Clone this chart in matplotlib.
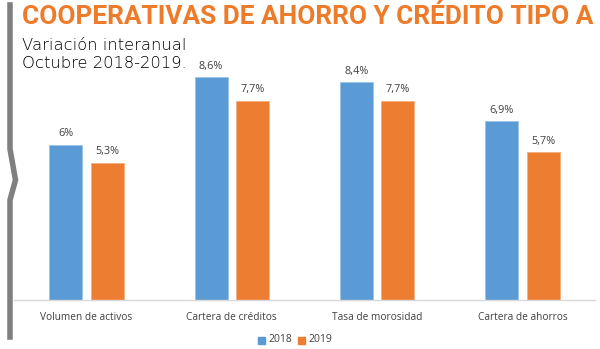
import matplotlib.pyplot as plt
import numpy as np
from matplotlib.lines import Line2D
from matplotlib.patches import Rectangle

categories = ["Volumen de activos", "Cartera de créditos", "Tasa de morosidad", "Cartera de ahorros"]
values_2018 = [6.0, 8.6, 8.4, 6.9]
values_2019 = [5.3, 7.7, 7.7, 5.7]
labels_2018 = ["6%", "8,6%", "8,4%", "6,9%"]
labels_2019 = ["5,3%", "7,7%", "7,7%", "5,7%"]
years = ["2018", "2019"]

blue = "#5b9bd5"
orange = "#ed7d31"
W, H = 600, 349

fig = plt.figure(figsize=(6, 3.49), dpi=100)
plt.rc('font', family=['Open Sans', 'DejaVu Sans'])

# plot area: baseline at y=300 px, 1% ~ 25.9 px
ax = fig.add_axes([14 / W, (H - 300) / H, 581 / W, 250 / H])
x = np.arange(len(categories))
bw = 0.227
off = 0.143
ax.bar(x - off, values_2018, bw, color=blue, edgecolor="#9cc3e6", linewidth=0.6)
ax.bar(x + off, values_2019, bw, color=orange, edgecolor="#f4b183", linewidth=0.6)
for i in range(len(categories)):
    ax.text(x[i] - off, values_2018[i] + 0.22, labels_2018[i], ha="center", va="bottom",
            fontsize=7.8, color="#404040")
    ax.text(x[i] + off, values_2019[i] + 0.22, labels_2019[i], ha="center", va="bottom",
            fontsize=7.8, color="#404040")
ax.set_xlim(-0.5, 3.5)
ax.set_ylim(0, 250 / 25.9)
ax.set_xticks(x)
ax.set_xticklabels(categories, fontsize=7.3, color="#404040")
ax.tick_params(axis="x", length=0, pad=9)
ax.set_yticks([])
for s in ["top", "right", "left"]:
    ax.spines[s].set_visible(False)
ax.spines["bottom"].set_color("#d9d9d9")
ax.spines["bottom"].set_linewidth(1)

# legend
fig.patches.append(Rectangle((258 / W, (H - 344) / H), 7 / W, 7 / H, transform=fig.transFigure,
                             color=blue, figure=fig))
fig.text(268 / W, (H - 340) / H, years[0], fontsize=7.5, color="#404040", va="center")
fig.patches.append(Rectangle((298 / W, (H - 344) / H), 7 / W, 7 / H, transform=fig.transFigure,
                             color=orange, figure=fig))
fig.text(308 / W, (H - 340) / H, years[1], fontsize=7.5, color="#404040", va="center")

# gray side bar with chevron
px = [10, 10, 15.5, 10, 10]
py = [5, 149, 180, 200, 337]
fig.lines.append(Line2D([p / W for p in px], [(H - p) / H for p in py], transform=fig.transFigure,
                        color="#808080", linewidth=4, solid_joinstyle="miter"))

# titles
fig.text(22 / W, (H - 17) / H, "COOPERATIVAS DE AHORRO Y CRÉDITO TIPO A", fontsize=18.9,
         fontweight="bold", color="#ee7b2a", va="center", family=["Roboto", "DejaVu Sans"])
fig.text(22 / W, (H - 45) / H, "Variación interanual", fontsize=11.8, color="#000000",
         va="center", family=["DejaVu Sans"], fontweight="light")
fig.text(22 / W, (H - 63.5) / H, "Octubre 2018-2019.", fontsize=11.8, color="#000000",
         va="center", family=["DejaVu Sans"], fontweight="light")

fig.savefig("out.png", dpi=100)
